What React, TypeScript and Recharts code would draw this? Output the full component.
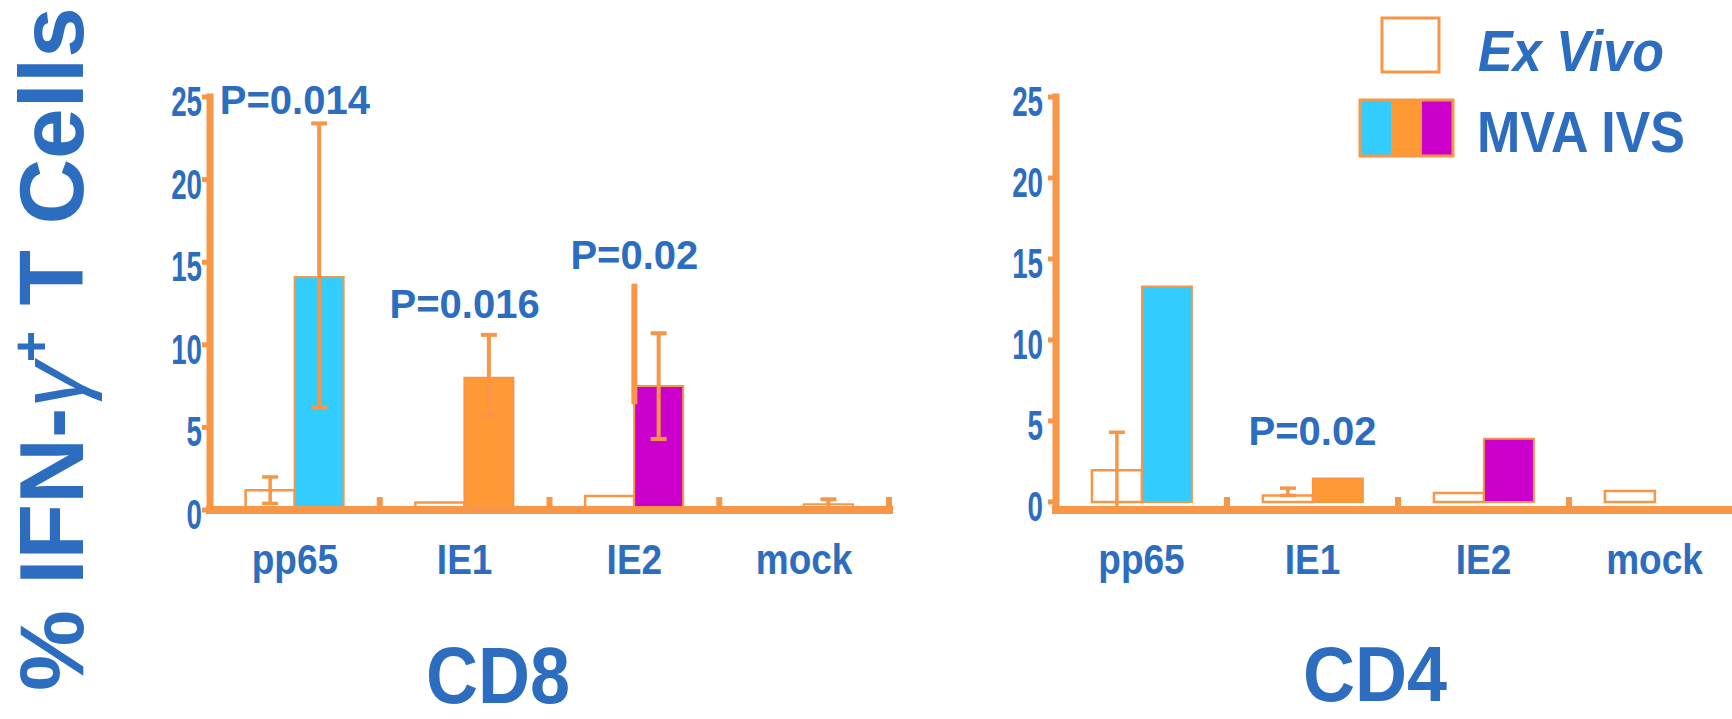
import React from 'react';
import { BarChart, Bar, XAxis, YAxis, ErrorBar, Cell, ReferenceDot, ReferenceLine } from 'recharts';

const categories = ['pp65', 'IE1', 'IE2', 'mock'];
const yTicks = [0, 5, 10, 15, 20, 25];

// CD8
const cd8ExVivo = [1.2, 0.45, 0.85, 0];
const cd8ExVivoErr = [[0.8, 0.8], null, null, null];
const cd8Mva = [14.1, 8.0, 7.5, 0.35];
const cd8MvaErr = [[7.9, 9.3], [2.3, 2.6], [3.2, 3.2], [0.3, 0.3]];
const cd8PLabels = [
  { category: 'pp65', y: 24.85, text: 'P=0.014' },
  { category: 'IE1', y: 12.5, text: 'P=0.016' },
  { category: 'IE2', y: 15.45, text: 'P=0.02' },
];
// extra whisker drawn in the original figure at IE2
const cd8ExtraWhiskers = [{ category: 'IE2', low: 6.4, high: 13.7 }];

// CD4
const cd4ExVivo = [1.95, 0.4, 0.55, 0.68];
const cd4ExVivoErr = [[2.45, 2.35], [0, 0.45], null, null];
const cd4Mva = [13.3, 1.45, 3.9, 0];
const cd4MvaErr = [null, null, null, null];
const cd4PLabels = [{ category: 'IE1', y: 4.4, text: 'P=0.02' }];

const BLUE = '#2D6DC0';
const AXIS = '#F79646';
const FONT = '"Liberation Sans", Arial, sans-serif';
const mvaColors: Record<string, string> = { pp65: '#33CCFF', IE1: '#FF9933', IE2: '#CC00CC' };
const cd8MockFill = '#FFFFFF';

const buildRows = (ex: number[], exErr: any[], mva: number[], mvaErr: any[]) =>
  categories.map((c, i) => ({ category: c, exVivo: ex[i], exVivoErr: exErr[i], mva: mva[i], mvaErr: mvaErr[i] }));

const cd8Rows = buildRows(cd8ExVivo, cd8ExVivoErr, cd8Mva, cd8MvaErr);
const cd4Rows = buildRows(cd4ExVivo, cd4ExVivoErr, cd4Mva, cd4MvaErr);

const StretchText = ({ x, y, sx = 1, sy = 1, size, anchor = 'middle', italic = false, children }: any) => (
  <g transform={`translate(${x},${y}) scale(${sx},${sy})`}>
    <text
      x={0}
      y={0}
      textAnchor={anchor}
      fill={BLUE}
      fontSize={size}
      fontWeight="bold"
      fontStyle={italic ? 'italic' : 'normal'}
      fontFamily={FONT}
    >
      {children}
    </text>
  </g>
);

const CategoryTick = (props: any) => {
  const { x, y, payload, band } = props;
  return (
    <g>
      <rect x={x + band / 2 - 3} y={y - 13} width={6} height={13} fill={AXIS} />
      <StretchText x={x} y={y + 64} sy={1.15} size={37}>
        {payload.value}
      </StretchText>
    </g>
  );
};

const ValueTick = (props: any) => {
  const { x, y, payload } = props;
  return (
    <StretchText x={x} y={y + 19} sx={0.66} size={42} anchor="end">
      {payload.value}
    </StretchText>
  );
};

const Panel = ({ rows, pLabels, whiskers = [], mockFill, width, margin, tickMargin }: any) => {
  const band = (width - margin.left - margin.right - 60) / categories.length;
  return (
    <BarChart width={width} height={719} data={rows} margin={margin} barCategoryGap="21%" barGap={0}>
      <XAxis
        dataKey="category"
        height={70}
        axisLine={{ stroke: AXIS, strokeWidth: 8, strokeLinecap: 'square' }}
        tickLine={false}
        tickSize={0}
        tickMargin={0}
        interval={0}
        tick={<CategoryTick band={band} />}
      />
      <YAxis
        width={60}
        domain={[0, 25]}
        ticks={yTicks}
        axisLine={{ stroke: AXIS, strokeWidth: 7, strokeLinecap: 'square' }}
        tickLine={{ stroke: AXIS, strokeWidth: 5 }}
        tickSize={8}
        tickMargin={tickMargin}
        tick={<ValueTick />}
      />
      <Bar dataKey="exVivo" name="Ex Vivo" fill="#FFFFFF" stroke={AXIS} strokeWidth={2.5} isAnimationActive={false}>
        <ErrorBar dataKey="exVivoErr" direction="y" width={8} stroke={AXIS} strokeWidth={3.5} isAnimationActive={false} />
      </Bar>
      <Bar dataKey="mva" name="MVA IVS" stroke={AXIS} strokeWidth={2} isAnimationActive={false}>
        {rows.map((r: any) => (
          <Cell key={r.category} fill={mvaColors[r.category] || mockFill} />
        ))}
        <ErrorBar dataKey="mvaErr" direction="y" width={8} stroke={AXIS} strokeWidth={4} isAnimationActive={false} />
      </Bar>
      {whiskers.map((w: any) => (
        <ReferenceLine
          key={'w' + w.category}
          segment={[
            { x: w.category, y: w.low },
            { x: w.category, y: w.high },
          ]}
          stroke={AXIS}
          strokeWidth={6}
        />
      ))}
      {pLabels.map((p: any) => (
        <ReferenceDot
          key={p.text + p.category}
          x={p.category}
          y={p.y}
          r={0}
          stroke="none"
          fill="none"
          label={{ value: p.text, position: 'center', fill: BLUE, fontSize: 40, fontWeight: 'bold', fontFamily: FONT }}
        />
      ))}
    </BarChart>
  );
};

export default function App() {
  return (
    <div style={{ position: 'absolute', left: 0, top: 0, width: 1732, height: 719, overflow: 'hidden', background: '#fff' }}>
      <div style={{ position: 'absolute', left: 0, top: 0 }}>
        <Panel
          rows={cd8Rows}
          pLabels={cd8PLabels}
          whiskers={cd8ExtraWhiskers}
          mockFill={cd8MockFill}
          width={900}
          margin={{ top: 97, right: 11, bottom: 139, left: 150 }}
          tickMargin={0}
        />
      </div>
      <div style={{ position: 'absolute', left: 900, top: 0 }}>
        <Panel
          rows={cd4Rows}
          pLabels={cd4PLabels}
          mockFill="#FFFFFF"
          width={850}
          margin={{ top: 97, right: 10, bottom: 139, left: 96 }}
          tickMargin={5}
        />
      </div>
      <svg width={1732} height={719} style={{ position: 'absolute', left: 0, top: 0, pointerEvents: 'none' }}>
        <text
          transform="translate(83,349) rotate(-90)"
          textAnchor="middle"
          fill={BLUE}
          fontSize={91}
          fontWeight="bold"
          fontFamily={FONT}
        >
          {'% IFN-'}
          <tspan fontStyle="italic" fontWeight="normal">γ</tspan>
          <tspan fontSize={54} dy={-34}>+</tspan>
          <tspan dy={34}>{' T Cells'}</tspan>
        </text>
        <StretchText x={498} y={703} sy={1.1} size={72}>CD8</StretchText>
        <StretchText x={1375} y={701} sy={1.08} size={72}>CD4</StretchText>

        <rect x={1382} y={18} width={57} height={54} fill="#FFFFFF" stroke={AXIS} strokeWidth={3} />
        <StretchText x={1478} y={71} sy={1.1} size={52} anchor="start" italic>Ex Vivo</StretchText>
        <rect x={1360} y={100} width={31} height={56} fill={mvaColors.pp65} />
        <rect x={1391} y={100} width={31} height={56} fill={mvaColors.IE1} />
        <rect x={1422} y={100} width={31} height={56} fill={mvaColors.IE2} />
        <rect x={1360} y={100} width={93} height={56} fill="none" stroke={AXIS} strokeWidth={3} />
        <StretchText x={1477} y={152} sy={1.12} size={52} anchor="start">MVA IVS</StretchText>
      </svg>
    </div>
  );
}
